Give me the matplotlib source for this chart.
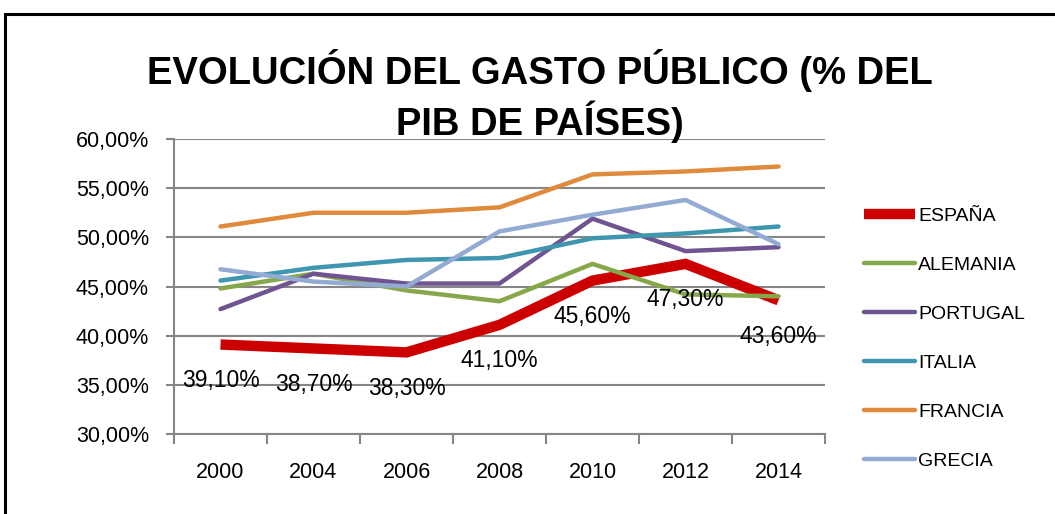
import matplotlib
matplotlib.use("Agg")
import matplotlib.pyplot as plt
from matplotlib.patches import Rectangle
from matplotlib.ticker import FuncFormatter, FixedLocator

# datos (% del PIB)
years = ["2000", "2004", "2006", "2008", "2010", "2012", "2014"]
espana = [39.1, 38.7, 38.3, 41.1, 45.6, 47.3, 43.6]
alemania = [44.8, 46.3, 44.6, 43.5, 47.3, 44.2, 44.0]
portugal = [42.7, 46.3, 45.3, 45.3, 51.9, 48.6, 49.0]
italia = [45.6, 46.9, 47.7, 47.9, 49.9, 50.4, 51.1]
francia = [51.1, 52.5, 52.5, 53.05, 56.4, 56.7, 57.2]
grecia = [46.75, 45.5, 45.0, 50.6, 52.3, 53.8, 49.3]

series = [
    ("ESPAÑA", espana, "#CC0000", 7.5),
    ("ALEMANIA", alemania, "#86A84A", 3.2),
    ("PORTUGAL", portugal, "#6F5491", 3.2),
    ("ITALIA", italia, "#3E97AE", 3.2),
    ("FRANCIA", francia, "#E08A3C", 3.2),
    ("GRECIA", grecia, "#93ABD3", 3.2),
]

plt.rcParams['font.family'] = ['Liberation Sans', 'DejaVu Sans']

fig = plt.figure(figsize=(10.55, 5.14), dpi=100)
ax = fig.add_axes([174 / 1055, 1 - 434 / 514, 651 / 1055, 295 / 514])

x = list(range(len(years)))
for name, vals, col, lw in series:
    cap = 'butt' if name == "ESPAÑA" else 'round'
    ax.plot(x, vals, color=col, lw=lw, label=name, solid_capstyle=cap,
            solid_joinstyle='miter' if name == "ESPAÑA" else 'round')

# etiquetas de España
for xi, v in zip(x, espana):
    ax.annotate(("%.2f%%" % v).replace(".", ","), (xi, v), xytext=(0, -26),
                textcoords='offset points', ha='center', va='center',
                fontsize=16.5, color='black')

ax.set_xlim(-0.5, len(years) - 0.5)
ax.set_ylim(30, 60)
ax.yaxis.set_major_locator(FixedLocator([30, 35, 40, 45, 50, 55, 60]))
ax.yaxis.set_major_formatter(FuncFormatter(lambda v, p: ("%.2f%%" % v).replace(".", ",")))
ax.set_xticks(x)
ax.set_xticklabels(years)
ax.set_xticks([i - 0.5 for i in range(len(years) + 1)], minor=True)
ax.tick_params(axis='x', which='major', length=0, pad=20, labelsize=15.5)
ax.tick_params(axis='x', which='minor', length=7, width=1.5, color='#868686')
ax.tick_params(axis='y', length=6, width=1.5, color='#868686', labelsize=15.5, pad=12)
ax.grid(axis='y', color='#868686', lw=1.5)
ax.set_axisbelow(True)
for s in ['top', 'right']:
    ax.spines[s].set_visible(False)
for s in ['left', 'bottom']:
    ax.spines[s].set_color('#868686')
    ax.spines[s].set_linewidth(1.5)

leg = ax.legend(loc='upper left', bbox_to_anchor=(864 / 1055, 1 - 207 / 514),
                bbox_transform=fig.transFigure, frameon=False, fontsize=14,
                handlelength=2.6, handletextpad=0.2, labelspacing=1.62,
                borderaxespad=0, borderpad=0)

title_font = dict(ha='center', va='center', fontsize=27.5, fontweight='bold')
fig.text(540 / 1055, 1 - 70 / 514, "EVOLUCIÓN DEL GASTO PÚBLICO (% DEL", **title_font)
fig.text(540 / 1055, 1 - 122 / 514, "PIB DE PAÍSES)", **title_font)

fig.patches.append(Rectangle((5 / 1055, -0.1), 1.2, 1 - 14 / 514 + 0.1,
                             transform=fig.transFigure, fill=False,
                             edgecolor='black', lw=2.2))

fig.savefig("out.png", dpi=100)
